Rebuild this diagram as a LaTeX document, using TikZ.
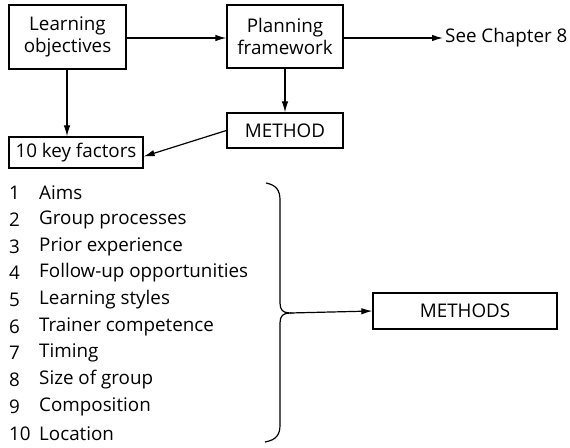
\documentclass[tikz,border=0pt]{standalone}
\usepackage{fontspec}
\setmainfont{Open Sans}
\usetikzlibrary{arrows.meta,calc}
\begin{document}
\begin{tikzpicture}[x=1pt,y=-1pt,
  font=\fontsize{18.8}{22}\selectfont,
  box/.style={draw,line width=1.3pt,inner sep=0pt,align=center},
  arr/.style={line width=1.2pt,-{Latex[length=11pt,width=6.5pt]}},
  item/.style={anchor=west,inner sep=0pt}]
\useasboundingbox (0,0) rectangle (570,447);
\node[box,minimum width=117pt,minimum height=64pt] (lo) at (67.5,37) {Learning\\objectives};
\node[box,minimum width=116pt,minimum height=63pt] (pf) at (285,36.5) {Planning\\framework};
\node[box,minimum width=116pt,minimum height=35pt] (meth) at (285,130.5) {METHOD};
\node[box,minimum width=134pt,minimum height=31pt] (kf) at (76,152.5) {10 key factors};
\node[box,minimum width=184pt,minimum height=36pt] (ms) at (465,311) {METHODS};
\node[item] (see) at (445,38) {See Chapter 8};
\draw[arr] (lo.east |- 0,38) -- (pf.west |- 0,38);
\draw[arr,shorten >=2pt] (pf.east |- 0,38) -- (see.west);
\draw[arr] (lo.south -| 67,0) -- (kf.north -| 67,0);
\draw[arr] (pf.south) -- (meth.north);
\draw[arr] (meth.west) -- ([yshift=-4pt]kf.east);
\foreach \n/\t [count=\i from 0] in {1/Aims,2/Group processes,3/Prior experience,4/Follow-up opportunities,5/Learning styles,6/Trainer competence,7/Timing,8/Size of group,9/Composition,10/Location}{
  \node[item] (num\n) at (9,193+26.7*\i) {\n};
  \node[item] (it\n) at (39,193+26.7*\i) {\t};
}
\coordinate (bt) at (290,313);
\draw[line width=1.2pt] (266,183) .. controls (276,185) and (280,190) .. (280,200) -- (280,303)
  .. controls (280,310) and (283,313) .. (bt)
  .. controls (283,313) and (280,316) .. (280,323) -- (280,425)
  .. controls (280,435) and (276,440) .. (265,442);
\draw[arr] (bt) -- (ms.west);
\end{tikzpicture}
\end{document}
